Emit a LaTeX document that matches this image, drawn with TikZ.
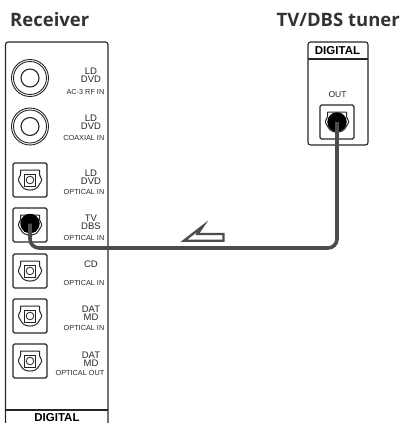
\documentclass[tikz,border=0pt]{standalone}
\usepackage{fontspec}
\setmainfont{Liberation Sans}
\newfontfamily\titlefont{Open Sans}
\usetikzlibrary{arrows.meta,positioning,calc}

\begin{document}
\begin{tikzpicture}[x=1pt,y=-1pt,
painel/.style={draw=black!85, line width=1.1pt, rounded corners=2.5pt},
titulo/.style={font=\titlefont\bfseries\fontsize{18.5}{18.5}\selectfont, text=black!80, inner sep=0pt},
faixa/.style={font=\bfseries\fontsize{11.5}{11.5}\selectfont, inner sep=0pt},
rotulo/.style={font=\fontsize{9.5}{7.9}\selectfont, align=center, inner sep=0pt, text=black!85},
rotulop/.style={font=\fontsize{7.3}{7.3}\selectfont, inner sep=0pt, text=black!85, anchor=east},
caixa/.style={draw=black!85, line width=1.1pt, rounded corners=1.5pt, minimum size=34pt, inner sep=0pt},
anel/.style={circle, draw=black!85, line width=0.9pt, inner sep=0pt},
plugue/.style={circle, fill=black, minimum size=19.5pt, inner sep=0pt},
cabo/.style={draw=black!70, line width=3.6pt, rounded corners=9pt},
seta/.style={draw=black!70, line width=2.4pt, fill=white},
optico/.pic={
  \draw[line width=1pt, draw=black!85, rounded corners=0.6pt] (-9.5,-10) -- (9.5,-10) -- (9.5,-5) .. controls (10.5,-3.5) and (11.5,-1.5) .. (11.5,0) .. controls (11.5,1.5) and (10,3) .. (9,5) .. controls (7,9) and (3,10) .. (0,10) .. controls (-3,10) and (-7,9) .. (-9,5) .. controls (-10,3) and (-11.5,1.5) .. (-11.5,0) .. controls (-11.5,-1.5) and (-10.5,-3.5) .. (-9.5,-5) -- cycle;
  \draw[line width=0.8pt, draw=black!85] (-5.3,-6) rectangle (5.3,6);
  \draw[line width=0.8pt, draw=black!85] (0,0) circle (3.8);
}
]
\useasboundingbox (0,0) rectangle (403,423);

\node[titulo, anchor=west] (receiver) at (10,20) {Receiver};
\node[titulo, anchor=east] (tuner) at (400,20) {TV/DBS tuner};

% painel do receiver
\draw[painel] (5.5,423) -- (5.5,42) -- (108,42) -- (108,423);
\draw[black!85, line width=1.1pt] (5.5,410) -- (108,410);
\node[faixa] (digitalr) at (57,418) {DIGITAL};

% coaxiais
\foreach \nome/\y in {rf/78,coax/126.5} {
  \node[anel, minimum size=37pt] (\nome) at (30,\y) {};
  \node[anel, minimum size=33pt] at (30,\y) {};
  \node[anel, line width=1.1pt, minimum size=18pt] at (30,\y) {};
}
\node[rotulo] (lrf) at (91,75.5) {LD\\DVD};
\node[rotulop] (irf) at (104.5,91.7) {AC-3 RF IN};
\node[rotulo] (lcoax) at (91,122) {LD\\DVD};
\node[rotulop] (icoax) at (104.5,138) {COAXIAL IN};

% opticos
\foreach \nome/\y in {ld/180,tv/225,cd/271,dat/316,datout/361} {
  \node[caixa] (\nome) at (30,\y) {};
  \pic at (\nome) {optico};
}
\node[rotulo] (lld) at (91,177) {LD\\DVD};
\node[rotulop] (ild) at (104.5,192) {OPTICAL IN};
\node[rotulo] (ltv) at (91,222.5) {TV\\DBS};
\node[rotulop] (itv) at (104.5,237.7) {OPTICAL IN};
\node[rotulo] (lcd) at (91,264) {CD};
\node[rotulop] (icd) at (104.5,282.7) {OPTICAL IN};
\node[rotulo] (ldat) at (91,313.5) {DAT\\MD};
\node[rotulop] (idat) at (104.5,328) {OPTICAL IN};
\node[rotulo] (ldatout) at (91,359) {DAT\\MD};
\node[rotulop] (idatout) at (104.5,373) {OPTICAL OUT};

% painel do tuner
\draw[painel] (308,42) rectangle (368,145);
\draw[black!85, line width=1.1pt] (308,59) -- (368,59);
\node[faixa] (digitalt) at (337.5,51) {DIGITAL};
\node[rotulop, anchor=center, font=\fontsize{8.5}{8.5}\selectfont] (saida) at (337.5,95) {OUT};
\node[caixa] (out) at (337,122) {};
\pic at (out) {optico};

% cabo
\node[plugue] (plugtv) at (30,223.5) {};
\node[plugue] (plugout) at (337,122) {};
\coordinate (canto) at (337,248);
\draw[cabo] (plugtv.center) |- (canto) -- (plugout.center);
\draw[seta] (184,240.7) -- (203,226) -- (197.5,234) -- (223.5,234) -- (223.5,240.7) -- cycle;
\end{tikzpicture}
\end{document}
